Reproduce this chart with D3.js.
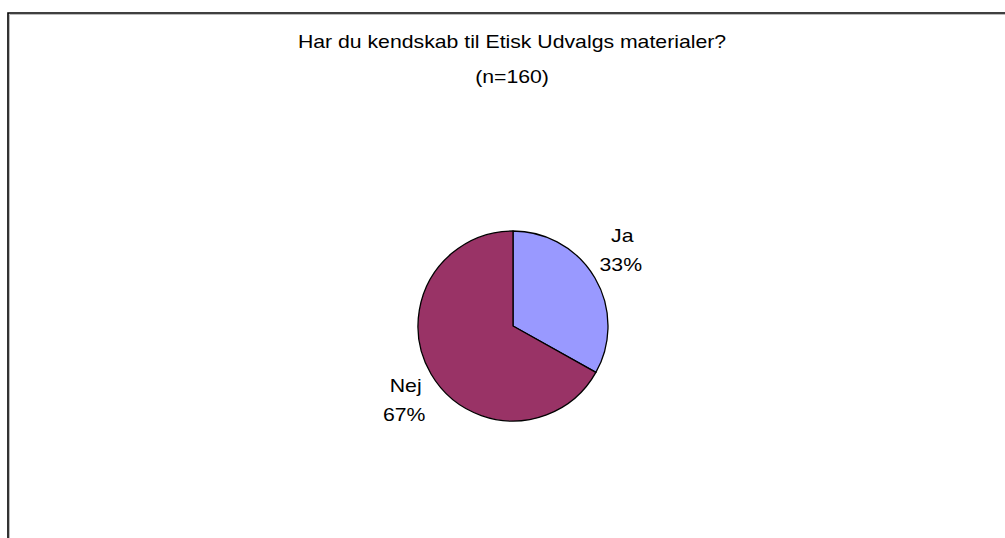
<!DOCTYPE html>
<html><head><meta charset="utf-8">
<script src="https://cdn.jsdelivr.net/npm/d3@7"></script>
<style>html,body{margin:0;padding:0;background:#fff;overflow:hidden}</style>
</head><body>
<script>
const titleLines = ["Har du kendskab til Etisk Udvalgs materialer?", "(n=160)"];
const categories = ["Ja", "Nej"];
const values = [53, 107];
const colors = ["#9999FF", "#993366"];

const W = 1005, H = 538;
const svg = d3.select("body").append("svg").attr("width", W).attr("height", H);
const font = "'Liberation Sans', Arial, sans-serif";
const FS = 18, SX = 1.18;

function stretchedText(parent, x, y, txt) {
  parent.append("g").attr("transform", `translate(${x},${y}) scale(${SX},1)`)
    .append("text").attr("x", 0).attr("y", 0)
    .attr("text-anchor","middle").attr("font-family", font).attr("font-size", FS)
    .attr("fill","#000").text(txt);
}

// frame with shadow
svg.append("path").attr("d", `M9.5,${H} V14.5 H${W}`).attr("fill","none").attr("stroke","#bbb").attr("stroke-width",1);
svg.append("path").attr("d", `M8,${H} V13 H${W}`).attr("fill","none").attr("stroke","#000").attr("stroke-width",1.6);

// title
const tg = svg.append("g");
titleLines.forEach((t, i) => stretchedText(tg, 512, 47.5 + i * 35.5, t));

const cx = 513, cy = 326, r = 95;
const total = d3.sum(values);
const pie = d3.pie().sort(null).value(d => d.v);
const data = categories.map((c,i) => ({c, v: values[i], col: colors[i]}));
const arcs = pie(data);
const arc = d3.arc().innerRadius(0).outerRadius(r);
const g = svg.append("g").attr("transform", `translate(${cx},${cy})`);
g.selectAll("path").data(arcs).join("path")
  .attr("d", arc).attr("fill", d => d.data.col)
  .attr("stroke","#000").attr("stroke-width",1.3).attr("stroke-linejoin","round");

// labels (outside end, placed near the slice's mid angle)
const labelArc = d3.arc().innerRadius(r*1.37).outerRadius(r*1.37);
const nudge = [[-3, -3.5], [5, 14.5]];
arcs.forEach((d, i) => {
  const [x, y] = labelArc.centroid(d);
  const lx = x + nudge[i][0], ly = y + nudge[i][1];
  const pct = Math.round(d.data.v / total * 100) + "%";
  stretchedText(g, lx, ly - 14.5, d.data.c);
  stretchedText(g, lx - 1.5, ly + 14.5, pct);
});
</script>
</body></html>
